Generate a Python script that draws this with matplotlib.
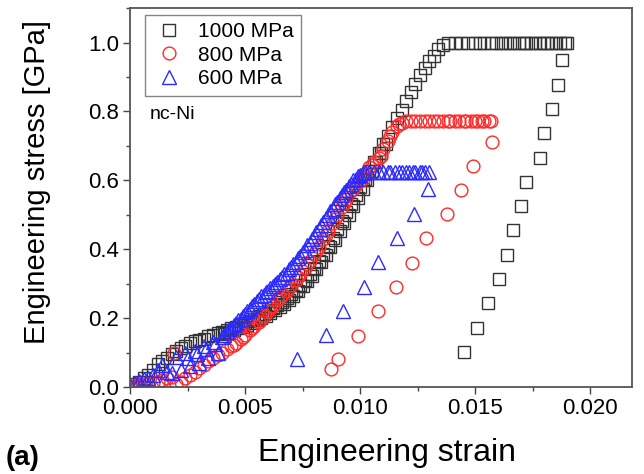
import matplotlib
matplotlib.use("Agg")
import matplotlib.pyplot as plt
from matplotlib.ticker import MultipleLocator, FormatStrFormatter

plt.rcParams['font.family'] = ['Liberation Sans', 'DejaVu Sans']

# 1000 MPa run: loading, plateau, unloading
strain_1000 = [0.0000, 0.0002, 0.0004, 0.0006, 0.0008, 0.0010, 0.0012, 0.0014, 0.0016, 0.0018,
               0.0020, 0.0022, 0.0024, 0.0026, 0.0028, 0.0030, 0.0032, 0.0034, 0.0036, 0.0038,
               0.0040, 0.0042, 0.0044, 0.0046, 0.0048, 0.0050, 0.0052, 0.0054, 0.0056, 0.0058,
               0.0060, 0.0062, 0.0064, 0.0066, 0.0068, 0.0070, 0.0072, 0.0074, 0.0076, 0.0078,
               0.0080, 0.0082, 0.0084, 0.0086, 0.0088, 0.0090, 0.0092, 0.0094, 0.0096, 0.0098,
               0.0100, 0.0102, 0.0104, 0.0106, 0.0108, 0.0110, 0.0112, 0.0114, 0.0116, 0.0118,
               0.0120, 0.0122, 0.0124, 0.0126, 0.0128, 0.0130, 0.0132, 0.0134, 0.0136, 0.0138,
               0.0141, 0.0144, 0.0147, 0.0150, 0.0152, 0.0154, 0.0157, 0.0159, 0.0161, 0.0163,
               0.0165, 0.0167, 0.0169, 0.0171, 0.0172, 0.0174, 0.0176, 0.0178, 0.0180, 0.0181,
               0.0183, 0.0185, 0.0187, 0.0189, 0.0190,
               0.01878, 0.01861, 0.01835, 0.01800, 0.01783, 0.01722, 0.01700, 0.01665, 0.01639,
               0.01604, 0.01557, 0.01509, 0.01452]
stress_1000 = [0.000, 0.008, 0.015, 0.025, 0.035, 0.050, 0.068, 0.075, 0.085, 0.095,
               0.105, 0.112, 0.120, 0.128, 0.133, 0.137, 0.140, 0.147, 0.152, 0.156,
               0.160, 0.165, 0.170, 0.175, 0.180, 0.186, 0.192, 0.198, 0.205, 0.212,
               0.220, 0.228, 0.237, 0.247, 0.258, 0.270, 0.283, 0.297, 0.312, 0.328,
               0.345, 0.365, 0.385, 0.408, 0.432, 0.458, 0.483, 0.508, 0.532, 0.556,
               0.580, 0.604, 0.628, 0.653, 0.678, 0.705, 0.730, 0.755, 0.780, 0.805,
               0.830, 0.855, 0.880, 0.905, 0.925, 0.945, 0.962, 0.980, 0.993, 1.000,
               1.000, 1.000, 1.000, 1.000, 1.000, 1.000, 1.000, 1.000, 1.000, 1.000,
               1.000, 1.000, 1.000, 1.000, 1.000, 1.000, 1.000, 1.000, 1.000, 1.000,
               1.000, 1.000, 1.000, 1.000, 1.000,
               0.948, 0.878, 0.806, 0.736, 0.664, 0.594, 0.525, 0.455, 0.383,
               0.313, 0.243, 0.171, 0.101]
# lower-right edge of the 1000 MPa band
strain_1000_band = [0.0041, 0.0043, 0.0045, 0.0047, 0.0049, 0.0051, 0.0053, 0.0055, 0.0057, 0.0059,
                    0.0061, 0.0063, 0.0065, 0.0067, 0.0069, 0.0071, 0.0073, 0.0075, 0.0077, 0.0079,
                    0.0081, 0.0083, 0.0085, 0.0087, 0.0089, 0.0091, 0.0093, 0.0095, 0.0097, 0.0099,
                    0.0101, 0.0103, 0.0105, 0.0107, 0.0109, 0.0111]
stress_1000_band = [0.155, 0.160, 0.165, 0.170, 0.175, 0.181, 0.187, 0.194, 0.200, 0.207,
                    0.215, 0.223, 0.232, 0.242, 0.253, 0.265, 0.278, 0.292, 0.307, 0.323,
                    0.342, 0.362, 0.383, 0.405, 0.428, 0.452, 0.476, 0.500, 0.525, 0.550,
                    0.575, 0.600, 0.627, 0.653, 0.680, 0.705]

# 800 MPa run
strain_800 = [0.0000, 0.0002, 0.0004, 0.0006, 0.0008, 0.0010, 0.0012, 0.0014, 0.0016, 0.0018,
              0.0019, 0.0020, 0.0022, 0.0024, 0.0026, 0.0028, 0.0030, 0.0032, 0.0034, 0.0036,
              0.0038, 0.0040, 0.0042, 0.0044, 0.0046, 0.0048, 0.0050, 0.0052, 0.0054, 0.0056,
              0.0058, 0.0060, 0.0062, 0.0064, 0.0066, 0.0068, 0.0070, 0.0072, 0.0074, 0.0076,
              0.0078, 0.0080, 0.0082, 0.0084, 0.0086, 0.0088, 0.0090, 0.0092, 0.0094, 0.0096,
              0.0098, 0.0100, 0.0102, 0.0104, 0.0106, 0.0108, 0.0110, 0.0112, 0.0114, 0.0116,
              0.0118, 0.0120,
              0.0122, 0.0124, 0.0126, 0.0128, 0.0130, 0.0132, 0.0134, 0.0136, 0.0138, 0.0139,
              0.0141, 0.0143, 0.0145, 0.0146, 0.0148, 0.0150, 0.0151, 0.0153, 0.0154, 0.0156,
              0.0157,
              0.01574, 0.01491, 0.01439, 0.01378, 0.01287, 0.01226, 0.01157, 0.01078, 0.00991,
              0.00904, 0.00874]
stress_800 = [0.000, 0.003, 0.005, 0.008, 0.010, 0.013, 0.016, 0.020, 0.025, 0.030,
              0.100, 0.008, 0.015, 0.025, 0.035, 0.045, 0.055, 0.065, 0.075, 0.083,
              0.092, 0.100, 0.110, 0.118, 0.128, 0.140, 0.152, 0.165, 0.178, 0.190,
              0.205, 0.220, 0.236, 0.252, 0.266, 0.280, 0.295, 0.311, 0.328, 0.346,
              0.365, 0.385, 0.407, 0.430, 0.453, 0.476, 0.500, 0.522, 0.545, 0.568,
              0.585, 0.598, 0.618, 0.638, 0.652, 0.665, 0.690, 0.715, 0.740, 0.757,
              0.767, 0.771,
              0.771, 0.771, 0.771, 0.771, 0.771, 0.771, 0.771, 0.771, 0.771, 0.771,
              0.771, 0.771, 0.771, 0.771, 0.771, 0.771, 0.771, 0.771, 0.771, 0.771,
              0.771,
              0.710, 0.641, 0.571, 0.501, 0.432, 0.359, 0.290, 0.220, 0.148,
              0.081, 0.052]
strain_800_band = [0.0045, 0.0049, 0.0053, 0.0057, 0.0061, 0.0065, 0.0069, 0.0073, 0.0077, 0.0081,
                   0.0085, 0.0089, 0.0093, 0.0097, 0.0101, 0.0105, 0.0109, 0.0113, 0.0117]
stress_800_band = [0.123, 0.146, 0.171, 0.197, 0.228, 0.259, 0.287, 0.320, 0.356, 0.396,
                   0.442, 0.488, 0.534, 0.575, 0.604, 0.645, 0.672, 0.728, 0.763]

# 600 MPa run
strain_600 = [0.0000, 0.0002, 0.0004, 0.0006, 0.0008, 0.0010, 0.0012, 0.0014, 0.0016, 0.0018,
              0.0020, 0.0022, 0.0024, 0.0026, 0.0028, 0.0030, 0.0032, 0.0034, 0.0036, 0.0038,
              0.0040, 0.0042, 0.0044, 0.0046, 0.0048, 0.0050, 0.0052, 0.0054, 0.0056, 0.0058,
              0.0060, 0.0062, 0.0064, 0.0066, 0.0068, 0.0070, 0.0072, 0.0074, 0.0076, 0.0078,
              0.0080, 0.0082, 0.0084, 0.0086, 0.0088, 0.0090, 0.0092, 0.0094, 0.0096, 0.0098,
              0.0100, 0.0102,
              0.0104, 0.0106, 0.0108, 0.0110, 0.0112, 0.0113, 0.0115, 0.0117, 0.0118, 0.0120,
              0.0121, 0.0123, 0.0124, 0.0126, 0.0127, 0.0128, 0.0130,
              0.01296, 0.01235, 0.01161, 0.01078, 0.01017, 0.00926, 0.00852, 0.00726]
stress_600 = [0.005, 0.012, 0.018, 0.022, 0.026, 0.035, 0.050, 0.064, 0.045, 0.040,
              0.087, 0.050, 0.099, 0.060, 0.105, 0.070, 0.118, 0.085, 0.130, 0.100,
              0.145, 0.160, 0.172, 0.185, 0.198, 0.212, 0.226, 0.240, 0.255, 0.268,
              0.280, 0.292, 0.305, 0.318, 0.332, 0.347, 0.363, 0.380, 0.398, 0.418,
              0.438, 0.458, 0.478, 0.498, 0.518, 0.538, 0.556, 0.573, 0.590, 0.605,
              0.616, 0.623,
              0.623, 0.623, 0.623, 0.623, 0.623, 0.623, 0.623, 0.623, 0.623, 0.623,
              0.623, 0.623, 0.623, 0.623, 0.623, 0.623, 0.623,
              0.574, 0.501, 0.432, 0.362, 0.290, 0.220, 0.151, 0.081]
# upper-left edge of the 600 MPa band
strain_600_band = [0.0025, 0.0029, 0.0033, 0.0037, 0.0041, 0.0043, 0.0045, 0.0047, 0.0049, 0.0051,
                   0.0053, 0.0055, 0.0057, 0.0059, 0.0061, 0.0063, 0.0065, 0.0067, 0.0069, 0.0071,
                   0.0073, 0.0075, 0.0077, 0.0079, 0.0081, 0.0083, 0.0085, 0.0087, 0.0089, 0.0091,
                   0.0093, 0.0095, 0.0097, 0.0099, 0.0101]
stress_600_band = [0.085, 0.095, 0.110, 0.125, 0.150, 0.168, 0.180, 0.194, 0.207, 0.222,
                   0.236, 0.250, 0.263, 0.276, 0.288, 0.300, 0.313, 0.327, 0.342, 0.357,
                   0.374, 0.392, 0.411, 0.431, 0.451, 0.471, 0.491, 0.511, 0.531, 0.550,
                   0.567, 0.584, 0.600, 0.612, 0.621]

labels = ['1000 MPa', '800 MPa', '600 MPa']

fig = plt.figure(figsize=(6.44, 4.74), dpi=100)
ax = fig.add_axes([0.202, 0.1835, 0.779, 0.7995])

ax.plot(strain_1000 + strain_1000_band, stress_1000 + stress_1000_band, ls='none',
        marker='s', ms=8.3, mfc='none', mec='#333333', mew=1.0, label=labels[0])
ax.plot(strain_800 + strain_800_band, stress_800 + stress_800_band, ls='none',
        marker='o', ms=9.2, mfc='none', mec='#ff2a2a', mew=1.0, label=labels[1])
ax.plot(strain_600 + strain_600_band, stress_600 + stress_600_band, ls='none',
        marker='^', ms=10, mfc='none', mec='#2b2bff', mew=1.0, label=labels[2])

ax.set_xlim(0, 0.0218)
ax.set_ylim(0, 1.1)
ax.xaxis.set_major_locator(MultipleLocator(0.005))
ax.xaxis.set_minor_locator(MultipleLocator(0.0025))
ax.yaxis.set_major_locator(MultipleLocator(0.2))
ax.yaxis.set_minor_locator(MultipleLocator(0.1))
ax.xaxis.set_major_formatter(FormatStrFormatter('%.3f'))
ax.yaxis.set_major_formatter(FormatStrFormatter('%.1f'))
ax.tick_params(which='major', direction='out', length=5, width=1, colors='#444444',
               labelcolor='black', labelsize=16, pad=3)
ax.tick_params(which='minor', direction='out', length=3, width=1, colors='#444444')
ax.tick_params(top=False, right=False)
for s in ax.spines.values():
    s.set_color('#555555')
    s.set_linewidth(1.3)

ax.set_xlabel('Engineering strain', fontsize=23)
ax.xaxis.set_label_coords(0.512, -0.135)
ax.set_ylabel('Engineering stress [GPa]', fontsize=21)
ax.yaxis.set_label_coords(-0.158, 0.54)

leg = ax.legend(loc='upper left', bbox_to_anchor=(0.03, 0.982), fontsize=15,
                frameon=True, fancybox=False, edgecolor='#666666',
                handlelength=1.6, handletextpad=0.6, labelspacing=0.22,
                borderpad=0.35, borderaxespad=0)
leg.get_frame().set_linewidth(1)

ax.text(0.04, 0.718, 'nc-Ni', transform=ax.transAxes, fontsize=14, va='center')
fig.text(0.008, 0.033, '(a)', fontsize=20, fontweight='bold', va='center')

fig.savefig('out.png', dpi=100)
